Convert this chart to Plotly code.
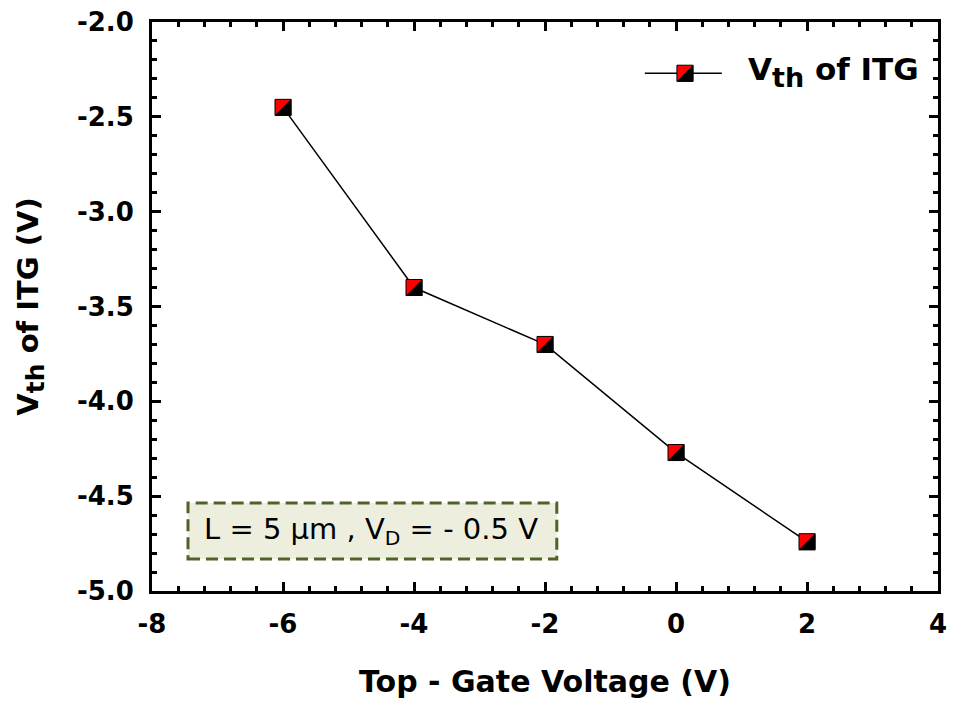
import plotly.graph_objects as go

top_gate_v = [-6, -4, -2, 0, 2]
vth_itg = [-2.45, -3.40, -3.70, -4.27, -4.74]
x_tick_vals = [-8, -6, -4, -2, 0, 2, 4]
x_tick_text = ["-8", "-6", "-4", "-2", "0", "2", "4"]
y_tick_vals = [-5.0, -4.5, -4.0, -3.5, -3.0, -2.5, -2.0]
y_tick_text = ["-5.0", "-4.5", "-4.0", "-3.5", "-3.0", "-2.5", "-2.0"]

FONT = "DejaVu Sans, Liberation Sans, Arial, sans-serif"
MS = 16
H = MS / 2 + 0.5  # half-size of marker in px (incl. outline)

fig = go.Figure()

# data line + red squares with black outline
fig.add_trace(go.Scatter(
    x=top_gate_v, y=vth_itg, mode="lines+markers",
    line=dict(color="black", width=1.5),
    marker=dict(symbol="square", size=MS, color="red", line=dict(color="black", width=1)),
    showlegend=False, hoverinfo="skip"))

# black lower-right halves of each marker (pixel-sized shapes anchored on the data)
tri_path = f"M {H},{H} L {H},{-H} L {-H},{-H} Z"
for xv, yv in zip(top_gate_v, vth_itg):
    fig.add_shape(type="path", xref="x", yref="y", xsizemode="pixel", ysizemode="pixel",
                  xanchor=xv, yanchor=yv, path=tri_path,
                  fillcolor="black", line=dict(width=0), layer="above")

# legend sample drawn on an overlay 0..1 axis
leg_x = [0.627, 0.725]
leg_y = [0.910, 0.910]
leg_mx, leg_my = 0.678, 0.910
fig.add_trace(go.Scatter(x=leg_x, y=leg_y, mode="lines", line=dict(color="black", width=1.5),
                         xaxis="x2", yaxis="y2", showlegend=False, hoverinfo="skip"))
fig.add_trace(go.Scatter(x=[leg_mx], y=[leg_my], mode="markers",
                         marker=dict(symbol="square", size=MS, color="red", line=dict(color="black", width=1)),
                         xaxis="x2", yaxis="y2", showlegend=False, hoverinfo="skip"))
fig.add_shape(type="path", xref="paper", yref="paper", xsizemode="pixel", ysizemode="pixel",
              xanchor=leg_mx, yanchor=leg_my, path=tri_path,
              fillcolor="black", line=dict(width=0), layer="above")

axis_common = dict(
    showline=True, linecolor="black", linewidth=3, mirror="allticks",
    ticks="inside", ticklen=9, tickwidth=3, tickcolor="black",
    showgrid=False, zeroline=False, automargin=False,
    tickfont=dict(family=FONT, size=26, color="black", weight="bold"),
)

fig.update_layout(
    width=953, height=702,
    margin=dict(l=152, r=15, t=22, b=111),
    plot_bgcolor="white", paper_bgcolor="white",
    showlegend=False,
    font=dict(family=FONT, color="black"),
    xaxis=dict(
        range=[-8, 4], tickvals=x_tick_vals, ticktext=x_tick_text,
        ticklabelstandoff=8,
        minor=dict(ticks="inside", ticklen=5, tickwidth=3, tickcolor="black", dtick=0.4, tick0=-8),
        title=dict(text="Top - Gate Voltage (V)", font=dict(family=FONT, size=30, color="black", weight="bold"), standoff=33),
        **axis_common),
    yaxis=dict(
        range=[-5, -2], tickvals=y_tick_vals, ticktext=y_tick_text,
        ticklabelstandoff=10,
        minor=dict(ticks="inside", ticklen=5, tickwidth=3, tickcolor="black", dtick=0.1, tick0=-5),
        title=dict(text="V<sub><span style='font-size:25px'>th</span></sub> of ITG (V)",
                   font=dict(family=FONT, size=29, color="black", weight="bold"), standoff=30),
        **axis_common),
    xaxis2=dict(range=[0, 1], overlaying="x", visible=False, fixedrange=True),
    yaxis2=dict(range=[0, 1], overlaying="y", visible=False, fixedrange=True),
)

fig.add_shape(type="rect", xref="paper", yref="paper",
              x0=0.0458, x1=0.515, y0=0.0562, y1=0.1547,
              line=dict(color="#4f6228", width=3, dash="12px,6px"),
              fillcolor="#eeeedf", layer="below")
fig.add_annotation(xref="paper", yref="paper", x=0.278, y=0.1054, xanchor="center", yanchor="middle",
                   showarrow=False,
                   text="L = 5 μm , V<sub>D</sub> = - 0.5 V",
                   font=dict(family=FONT, size=29, color="black"))
fig.add_annotation(xref="paper", yref="paper", x=0.756, y=0.912, xanchor="left", yanchor="middle",
                   showarrow=False, text="V<sub><span style='font-size:27px'>th</span></sub> of ITG",
                   font=dict(family=FONT, size=31, color="black", weight="bold"))

fig.write_html("out.html")
